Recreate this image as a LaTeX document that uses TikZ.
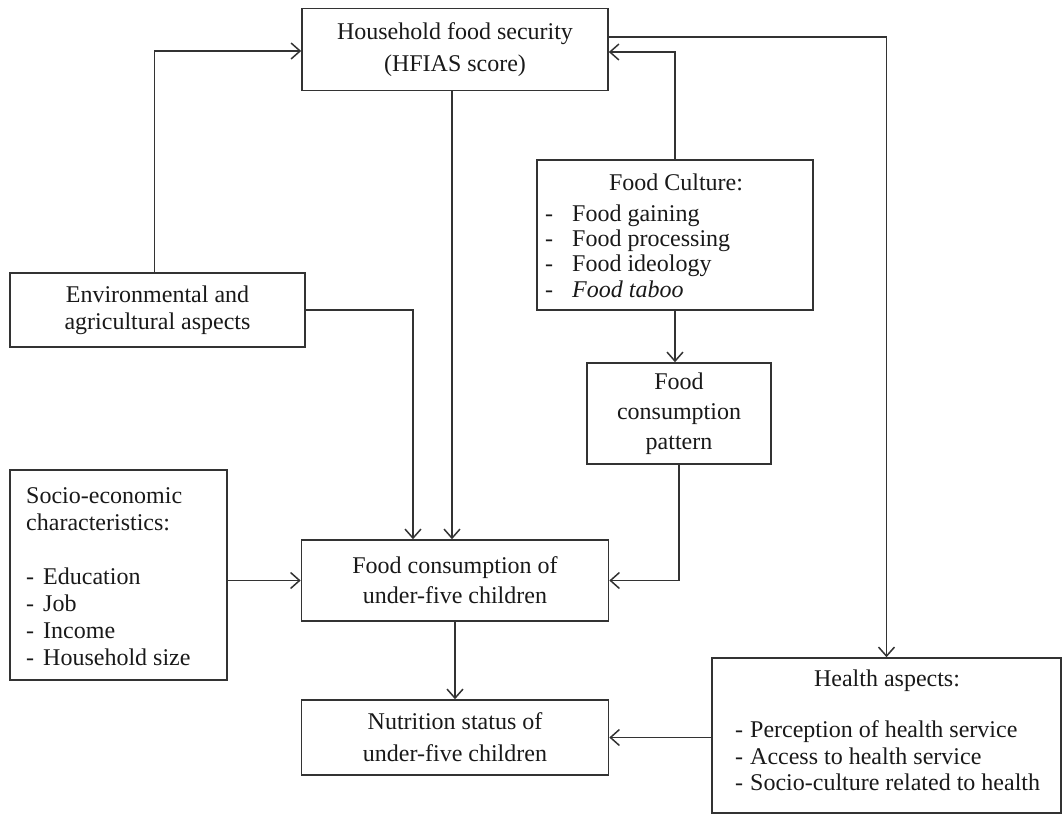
\documentclass[tikz,border=0pt]{standalone}
\usepackage{fontspec}
\setmainfont{Liberation Serif}
\usetikzlibrary{arrows.meta}
\begin{document}
\begin{tikzpicture}[x=1pt,y=-1pt,
  every node/.style={text=black!90},
  box/.style={draw=black!80, line width=1.6pt, rectangle, inner sep=0pt, align=center},
  txt/.style={inner sep=0pt, align=left},
  fs/.style={font=\fontsize{24}{#1}\selectfont},
  arr/.style={draw=black!80, line width=1.6pt,
    -{Straight Barb[length=9pt,width=16pt,line width=1.5pt]}}]

\useasboundingbox (0,0) rectangle (1063,815);

% main boxes
\node[box, fs=32, minimum width=306pt, minimum height=82pt] (hfs) at (455,49.5)
  {Household food security\\(HFIAS score)};
\node[box, fs=30, minimum width=307pt, minimum height=81pt] (fcu) at (455,580.5)
  {Food consumption of\\under-five children};
\node[box, fs=32, minimum width=307pt, minimum height=75pt] (ns) at (455,737.5)
  {Nutrition status of\\under-five children};
\node[box, fs=27, minimum width=295pt, minimum height=74pt] (env) at (157.5,310)
  {Environmental and\\agricultural aspects};
\node[box, fs=30, minimum width=184pt, minimum height=101pt] (fcp) at (679,413.5)
  {Food\\consumption\\pattern};

% food culture box
\node[box, minimum width=276pt, minimum height=150pt] (fc) at (675,235) {};
\node[txt, fs=26] (fctitle) at (676,182) {Food Culture:};
\node[txt, fs=25.3, anchor=west] (fclist) at (545,251)
  {-\hspace{19pt}Food gaining\\-\hspace{19pt}Food processing\\-\hspace{19pt}Food ideology\\-\hspace{19pt}\textit{Food taboo}};

% socio-economic box
\node[box, minimum width=217pt, minimum height=210pt] (socio) at (118.5,575) {};
\node[txt, fs=27, anchor=west] (sociotext) at (26,577)
  {Socio-economic\\characteristics:\\[27pt]-\hspace{9pt}Education\\-\hspace{9pt}Job\\-\hspace{9pt}Income\\-\hspace{9pt}Household size};

% health box
\node[box, minimum width=349pt, minimum height=155pt] (health) at (886.5,735.5) {};
\node[txt, fs=26] (htitle) at (887,681) {Health aspects:};
\node[txt, fs=26.5, anchor=west] (hlist) at (735,756)
  {-\hspace{7pt}Perception of health service\\-\hspace{7pt}Access to health service\\-\hspace{7pt}Socio-culture related to health};

% connectors
\draw[arr] ([xshift=-3pt]env.north) |- ([yshift=-1.5pt]hfs.west);
\draw[arr] ([yshift=12.5pt]hfs.east) -| (health.north);
\draw[arr] (fc.north) |- ([yshift=-2.5pt]hfs.east);
\draw[arr] ([xshift=-3pt]hfs.south) -- ([xshift=-3pt]fcu.north);
\draw[arr] (env.east) -| ([xshift=-42pt]fcu.north);
\draw[arr] (fc.south) -- (fc.south |- fcp.north);
\draw[arr] (fcp.south) |- (fcu.east);
\draw[arr] (socio.east |- fcu.west) -- (fcu.west);
\draw[arr] (fcu.south) -- (ns.north);
\draw[arr] (health.west |- ns.east) -- (ns.east);
\end{tikzpicture}
\end{document}
